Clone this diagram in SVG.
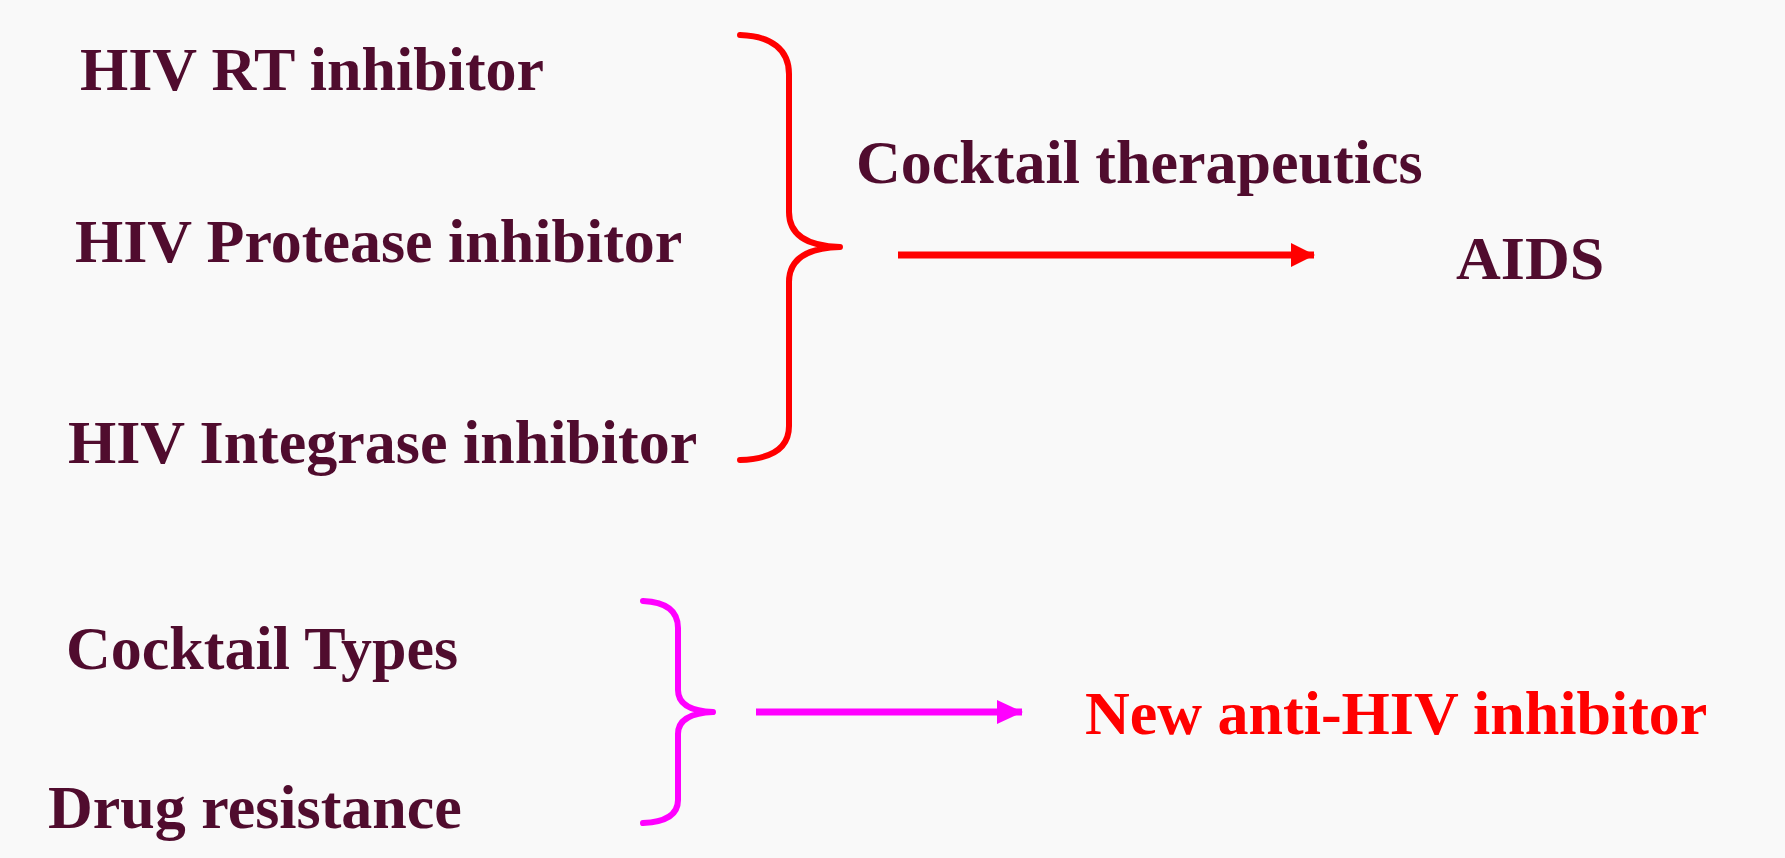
<svg xmlns="http://www.w3.org/2000/svg" width="1785" height="858" viewBox="0 0 1785 858">
  <defs>
    <style>
      .lbl { font-family: "Liberation Serif", "Times New Roman", serif; font-weight: bold; font-size: 62px; fill: #500c2e; }
      .hot { fill: #ff0000; }
      .brace { fill: none; stroke-width: 6; stroke-linecap: round; stroke-linejoin: round; }
      .red { stroke: #ff0000; }
      .mag { stroke: #ff00ff; }
    </style>
    <marker id="headRed" markerUnits="userSpaceOnUse" markerWidth="24" markerHeight="26" refX="23" refY="12" orient="auto">
      <path d="M0,0 L24,12 L0,24 Z" fill="#ff0000"/>
    </marker>
    <marker id="headMag" markerUnits="userSpaceOnUse" markerWidth="26" markerHeight="26" refX="25" refY="12" orient="auto">
      <path d="M0,0 L26,12 L0,24 Z" fill="#ff00ff"/>
    </marker>
  </defs>

  <rect x="0" y="0" width="1785" height="858" fill="#f9f9f9"/>

  <!-- inhibitor classes -->
  <g id="rt-inhibitor"><text class="lbl" x="80" y="90">HIV RT inhibitor</text></g>
  <g id="protease-inhibitor"><text class="lbl" x="75" y="262">HIV Protease inhibitor</text></g>
  <g id="integrase-inhibitor"><text class="lbl" x="68" y="463">HIV Integrase inhibitor</text></g>

  <!-- combined therapy and target -->
  <g id="cocktail-therapeutics"><text class="lbl" x="856" y="183">Cocktail therapeutics</text></g>
  <g id="aids"><text class="lbl" x="1456" y="279">AIDS</text></g>

  <!-- lower group -->
  <g id="cocktail-types"><text class="lbl" x="66" y="669">Cocktail Types</text></g>
  <g id="drug-resistance"><text class="lbl" x="48" y="828">Drug resistance</text></g>
  <g id="new-inhibitor"><text class="lbl hot" x="1085" y="734">New anti-HIV inhibitor</text></g>

  <g id="connectors">
    <!-- upper brace -->
    <path class="brace red" d="M740,35 C772,36 789,50 789,74 L789,212 C789,234 806,246 840,247 C806,248 789,260 789,282 L789,426 C789,448 772,459 740,460"/>
    <line x1="898" y1="255" x2="1314" y2="255" stroke="#ff0000" stroke-width="7" marker-end="url(#headRed)"/>

    <!-- lower brace -->
    <path class="brace mag" d="M643,601 C666,602 678,611 678,628 L678,690 C678,704 690,711 713,712 C690,713 678,720 678,734 L678,800 C678,815 666,822 643,823"/>
    <line x1="756" y1="712" x2="1022" y2="712" stroke="#ff00ff" stroke-width="7" marker-end="url(#headMag)"/>
  </g>
</svg>
